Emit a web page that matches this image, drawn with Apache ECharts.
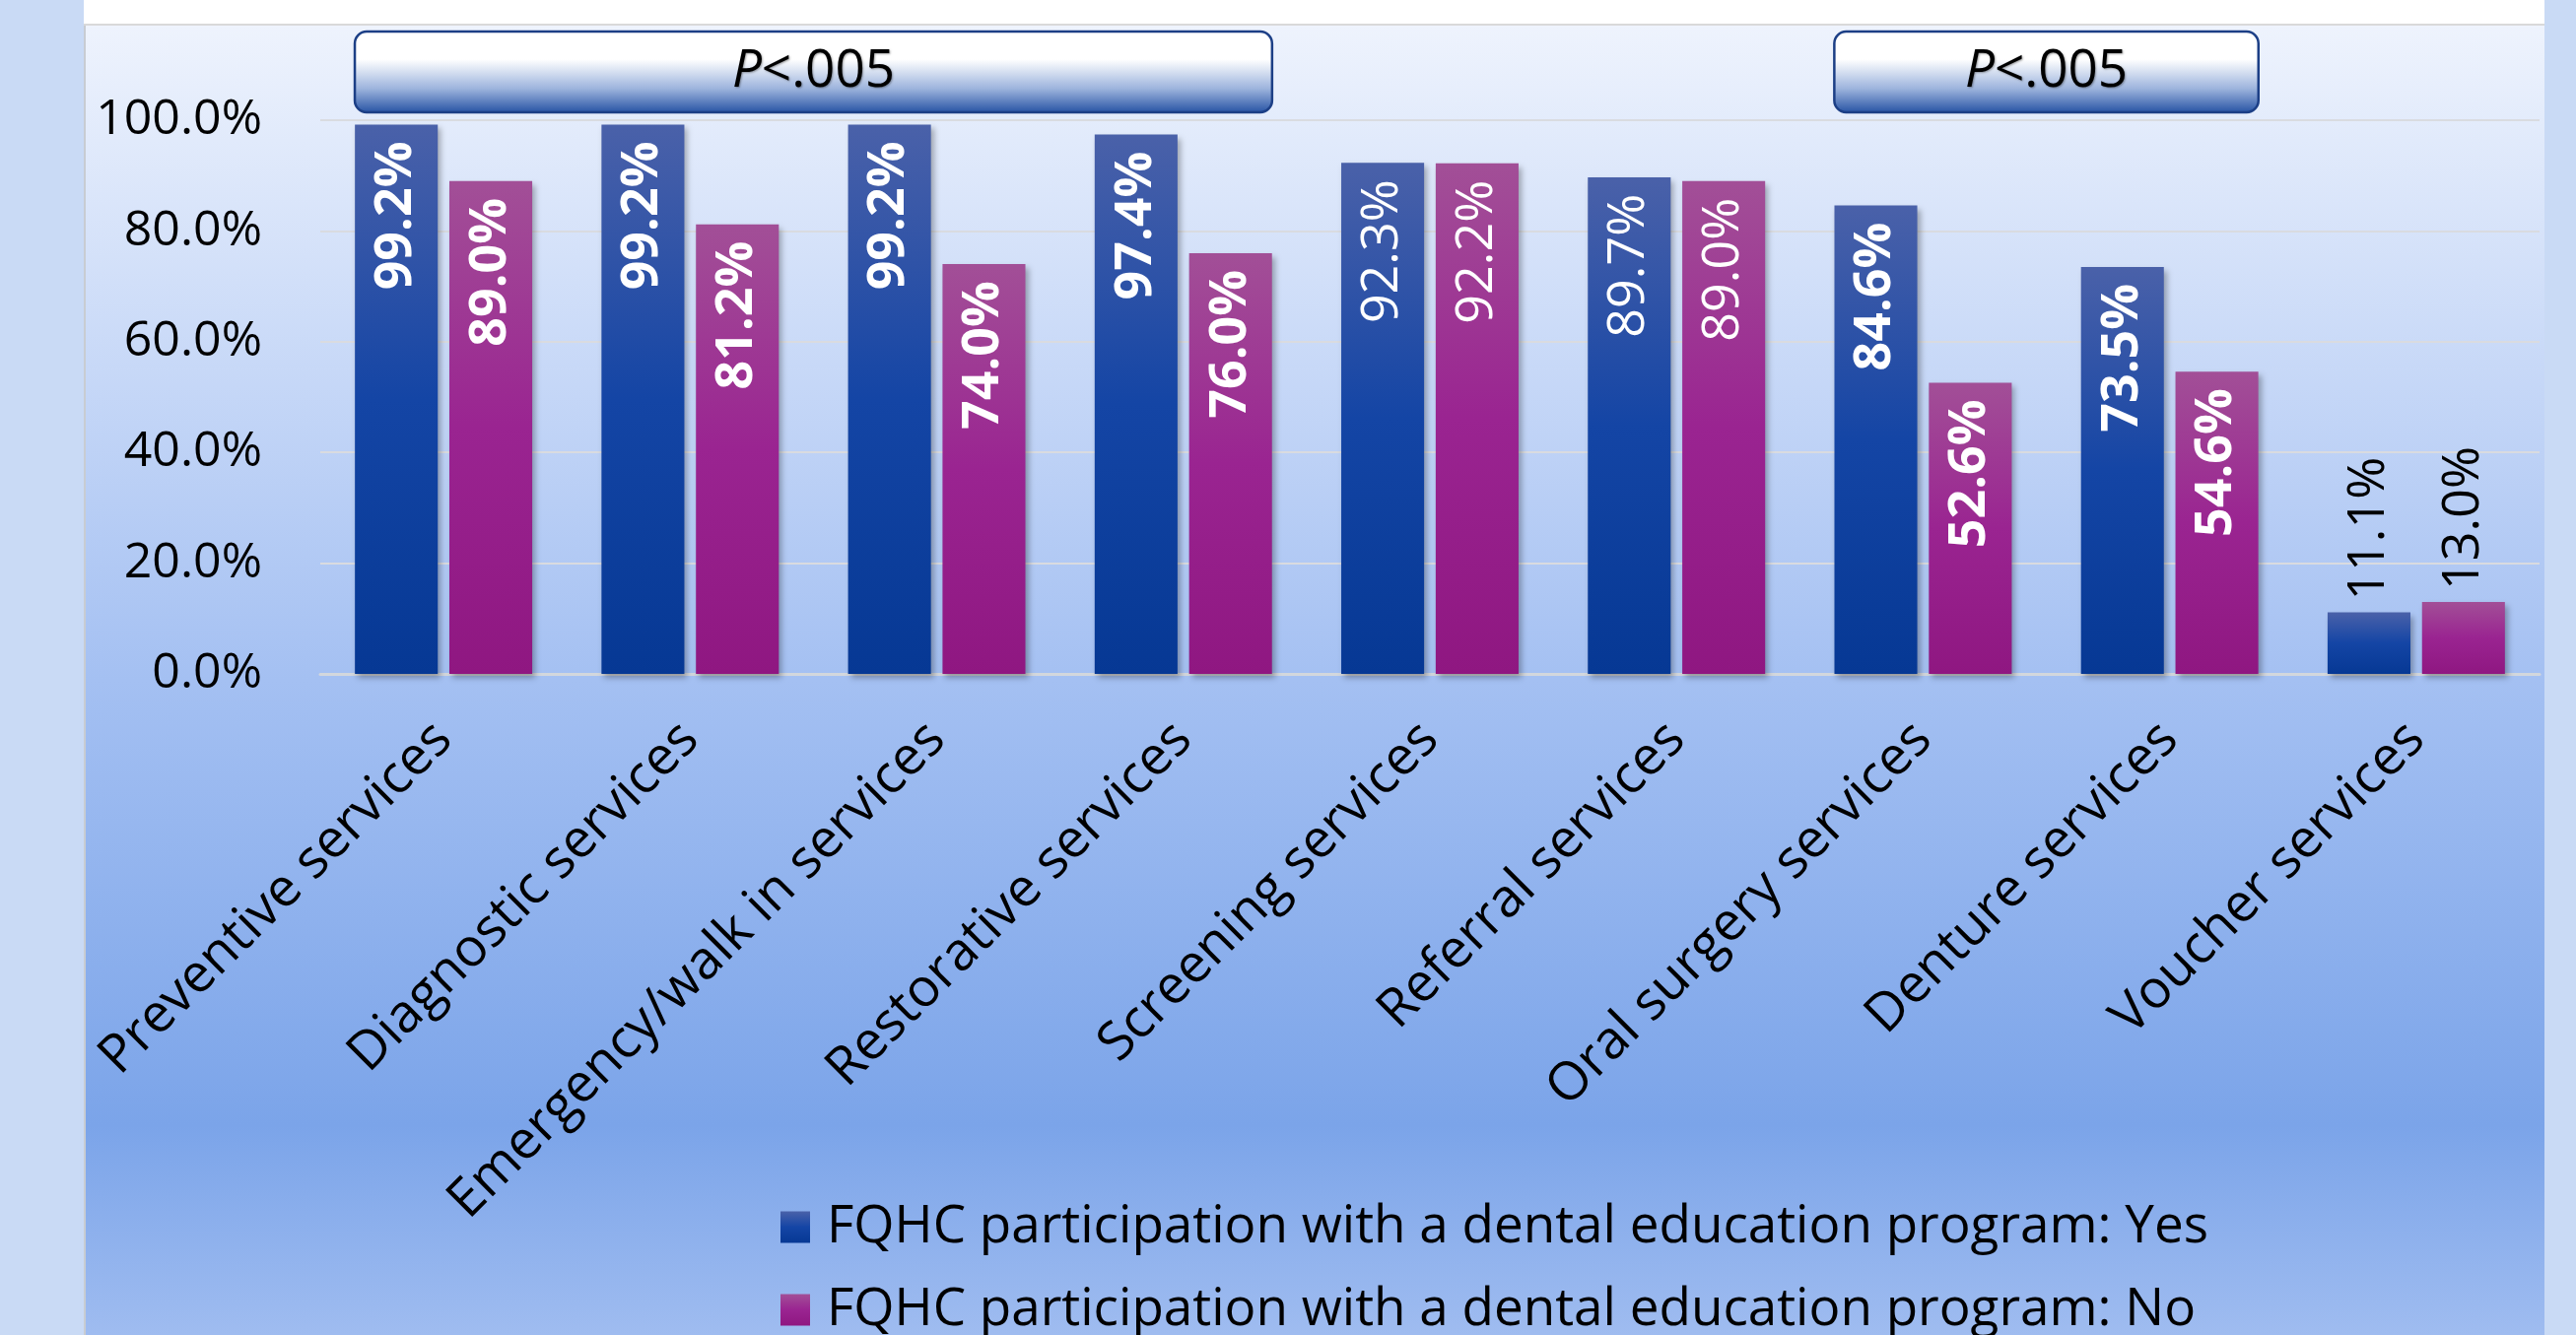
<!DOCTYPE html>
<html>
<head>
<meta charset="utf-8">
<script src="https://cdn.jsdelivr.net/npm/echarts@6/dist/echarts.min.js"></script>
<style>
html, body { margin: 0; padding: 0; }
#chart { width: 2614px; height: 1355px; }
</style>
</head>
<body>
<div id="chart"></div>
<script>
var categories = ['Preventive services', 'Diagnostic services', 'Emergency/walk in services',
    'Restorative services', 'Screening services', 'Referral services',
    'Oral surgery services', 'Denture services', 'Voucher services'];
var yesValues = [99.2, 99.2, 99.2, 97.4, 92.3, 89.7, 84.6, 73.5, 11.1];
var noValues = [89.0, 81.2, 74.0, 76.0, 92.2, 89.0, 52.6, 54.6, 13.0];
var seriesNames = ['FQHC participation with a dental education program: Yes',
    'FQHC participation with a dental education program: No'];
// how the value labels of each category are drawn
var labelKinds = ['bold', 'bold', 'bold', 'bold', 'plain', 'plain', 'bold', 'bold', 'above'];
// significance boxes over groups of categories
var pGroups = [
    { first: 0, last: 3, text: 'P<.005' },
    { first: 6, last: 7, text: 'P<.005' }
];

var FONT = 'Open Sans';
var chart = echarts.init(document.getElementById('chart'));

function labelFor(kind) {
    if (kind === 'above') {
        return { position: 'top', rotate: 90, align: 'left', verticalAlign: 'middle',
            distance: 12, color: '#000', fontWeight: 'normal' };
    }
    return { position: 'insideTop', rotate: 90, align: 'right', verticalAlign: 'middle',
        distance: 17, color: '#fff', fontWeight: kind === 'bold' ? 'bold' : 'normal' };
}

function buildData(values) {
    return values.map(function (v, i) {
        return { value: v, label: labelFor(labelKinds[i]) };
    });
}

function grad(c0, c1, c2) {
    return new echarts.graphic.LinearGradient(0, 0, 0, 1, [
        { offset: 0, color: c0 }, { offset: 0.5, color: c1 }, { offset: 1, color: c2 }
    ]);
}

var blueFill = grad('#4a61a9', '#1445a5', '#063894');
var pinkFill = grad('#a24f97', '#9a2491', '#8f1781');

var baseLabel = {
    show: true,
    fontSize: 52,
    fontFamily: FONT,
    formatter: function (p) { return p.value.toFixed(1) + '%'; }
};

// one legend per row so they stack like the original
function legendRow(name, top) {
    return {
        left: 792,
        top: top,
        padding: 0,
        itemWidth: 30,
        itemHeight: 32,
        icon: 'rect',
        textStyle: { fontSize: 53, color: '#000', fontFamily: FONT, lineHeight: 48, padding: [0, 0, 0, 12] },
        data: [name]
    };
}

var option = {
    backgroundColor: '#c9daf5',
    animation: false,
    textStyle: { fontFamily: FONT },
    grid: { left: 325, right: 37, top: 122, bottom: 671 },
    legend: [legendRow(seriesNames[0], 1219), legendRow(seriesNames[1], 1303)],
    xAxis: {
        type: 'category',
        data: categories,
        axisTick: { show: false },
        axisLine: { lineStyle: { color: '#d3d7dd', width: 3 } },
        axisLabel: { interval: 0, rotate: 45, fontSize: 54, color: '#000', margin: 58, fontFamily: FONT }
    },
    yAxis: {
        type: 'value',
        min: 0,
        max: 100,
        interval: 20,
        axisLine: { show: false },
        axisTick: { show: false },
        splitLine: { lineStyle: { color: '#d9dbe0', width: 2 } },
        axisLabel: {
            fontSize: 50, color: '#000', margin: 59, fontFamily: FONT,
            formatter: function (v) { return v.toFixed(1) + '%'; }
        }
    },
    series: [
        {
            name: seriesNames[0],
            type: 'bar',
            barWidth: '33.6%',
            barGap: '14%',
            itemStyle: { color: blueFill, shadowBlur: 6, shadowOffsetX: 3, shadowOffsetY: 4, shadowColor: 'rgba(0,0,0,0.3)' },
            label: baseLabel,
            data: buildData(yesValues)
        },
        {
            name: seriesNames[1],
            type: 'bar',
            barWidth: '33.6%',
            barGap: '14%',
            itemStyle: { color: pinkFill, shadowBlur: 6, shadowOffsetX: 3, shadowOffsetY: 4, shadowColor: 'rgba(0,0,0,0.3)' },
            label: baseLabel,
            data: buildData(noValues)
        }
    ]
};
chart.setOption(option);

// background panels and the P-value boxes
var H = 1355;
var graphics = [
    { type: 'rect', z: -100, shape: { x: 85, y: 0, width: 2497, height: 25 }, style: { fill: '#ffffff' } },
    { type: 'rect', z: -100, shape: { x: 85, y: 26, width: 2497, height: H - 26 },
      style: { fill: new echarts.graphic.LinearGradient(0, 0, 0, 1, [
          { offset: 0, color: '#eef3fd' },
          { offset: 0.5, color: '#a4c0f2' },
          { offset: 0.84, color: '#7ba4e9' },
          { offset: 1, color: '#9fbcf0' }
      ]) } },
    { type: 'line', z: -99, shape: { x1: 85, y1: 25, x2: 2582, y2: 25 }, style: { stroke: '#d9d9d9', lineWidth: 2 } },
    { type: 'line', z: -99, shape: { x1: 86, y1: 26, x2: 86, y2: H }, style: { stroke: '#c8ccd2', lineWidth: 2 } }
];

var band = chart.convertToPixel({ xAxisIndex: 0 }, 1) - chart.convertToPixel({ xAxisIndex: 0 }, 0);
var y100 = chart.convertToPixel({ yAxisIndex: 0 }, 100);
pGroups.forEach(function (g) {
    var x0 = chart.convertToPixel({ xAxisIndex: 0 }, g.first) - band * 0.36;
    var x1 = chart.convertToPixel({ xAxisIndex: 0 }, g.last) + band * 0.36;
    var top = y100 - 90, bottom = y100 - 8;
    graphics.push({
        type: 'rect', z: 50,
        shape: { x: x0, y: top, width: x1 - x0, height: bottom - top, r: 12 },
        style: {
            fill: new echarts.graphic.LinearGradient(0, 0, 0, 1, [
                { offset: 0, color: '#ffffff' },
                { offset: 0.35, color: '#ffffff' },
                { offset: 0.7, color: '#9db4dd' },
                { offset: 1, color: '#2350a2' }
            ]),
            stroke: '#1c3f86',
            lineWidth: 2.5
        }
    });
    graphics.push({
        type: 'text', z: 51,
        x: (x0 + x1) / 2,
        y: (top + bottom) / 2,
        style: {
            text: '{i|P}{n|' + g.text.slice(1) + '}',
            align: 'center',
            verticalAlign: 'middle',
            fill: '#000',
            fontFamily: FONT,
            fontSize: 53,
            textShadowColor: 'rgba(0,0,0,0.35)',
            textShadowBlur: 2,
            textShadowOffsetX: 1,
            textShadowOffsetY: 1,
            rich: {
                i: { fontStyle: 'italic', fontSize: 53, fontFamily: FONT, fill: '#000' },
                n: { fontSize: 53, fontFamily: FONT, fill: '#000' }
            }
        }
    });
});
chart.setOption({ graphic: graphics });

window.onresize = function () {
    chart.resize();
};
</script>
</body>
</html>
